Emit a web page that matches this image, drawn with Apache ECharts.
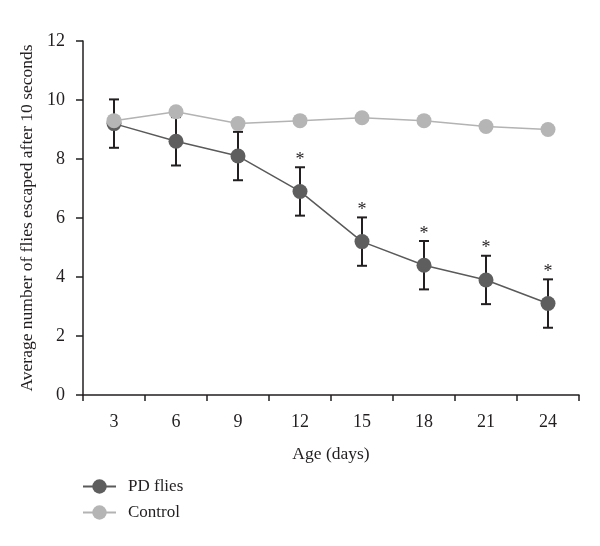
<!DOCTYPE html>
<html>
<head>
<meta charset="utf-8">
<script src="https://cdn.jsdelivr.net/npm/echarts@6/dist/echarts.min.js"></script>
<style>
html, body { margin: 0; padding: 0; background: #fff; }
#chart { width: 600px; height: 546px; }
</style>
</head>
<body>
<div id="chart"></div>
<script>
// data
var ages = ['3', '6', '9', '12', '15', '18', '21', '24'];
var pdFlies = [9.2, 8.6, 8.1, 6.9, 5.2, 4.4, 3.9, 3.1];
var pdErr = [0.82, 0.82, 0.82, 0.82, 0.82, 0.82, 0.82, 0.82];
var control = [9.3, 9.6, 9.2, 9.3, 9.4, 9.3, 9.1, 9.0];
var significant = [0, 0, 0, 1, 1, 1, 1, 1];
var yTicks = [0, 2, 4, 6, 8, 10, 12];

var ink = '#231f20';
var serif = 'Liberation Serif';

var errData = pdFlies.map(function (v, i) {
    return [i, v - pdErr[i], v + pdErr[i], significant[i]];
});

var chart = echarts.init(document.getElementById('chart'));
var option = {
    animation: false,
    textStyle: { fontFamily: serif, color: ink },
    grid: { left: 83, right: 21, top: 41, bottom: 151, containLabel: false },
    legend: {
        orient: 'vertical',
        left: 77,
        top: 473,
        itemWidth: 33,
        itemHeight: 18,
        itemGap: 9,
        data: ['PD flies', 'Control'],
        textStyle: { fontFamily: serif, fontSize: 17, color: ink, padding: [0, 0, 0, 7] }
    },
    xAxis: {
        type: 'category',
        data: ages,
        boundaryGap: true,
        name: 'Age (days)',
        nameLocation: 'middle',
        nameGap: 50,
        nameTextStyle: { fontFamily: serif, fontSize: 17.5, color: ink },
        axisLine: { lineStyle: { color: ink, width: 1.5 } },
        axisTick: { show: true, length: 6, alignWithLabel: false, lineStyle: { color: ink, width: 1.5 } },
        axisLabel: { fontFamily: serif, fontSize: 18, color: ink, margin: 18 },
        splitLine: { show: false }
    },
    yAxis: {
        type: 'value',
        min: yTicks[0],
        max: yTicks[yTicks.length - 1],
        interval: 2,
        name: 'Average number of flies escaped after 10 seconds',
        nameLocation: 'middle',
        nameGap: 42,
        nameTextStyle: { fontFamily: serif, fontSize: 17.5, color: ink },
        axisLine: { show: true, lineStyle: { color: ink, width: 1.5 } },
        axisTick: { show: true, length: 7, lineStyle: { color: ink, width: 1.5 } },
        axisLabel: { fontFamily: serif, fontSize: 18, color: ink, margin: 18 },
        splitLine: { show: false }
    },
    series: [
        {
            name: 'errors',
            type: 'custom',
            z: 1,
            data: errData,
            encode: { x: 0, y: [1, 2] },
            renderItem: function (params, api) {
                var lo = api.coord([api.value(0), api.value(1)]);
                var hi = api.coord([api.value(0), api.value(2)]);
                var cap = 5;
                var style = { stroke: ink, lineWidth: 2 };
                var kids = [
                    { type: 'line', shape: { x1: lo[0], y1: lo[1], x2: hi[0], y2: hi[1] }, style: style },
                    { type: 'line', shape: { x1: lo[0] - cap, y1: lo[1], x2: lo[0] + cap, y2: lo[1] }, style: style },
                    { type: 'line', shape: { x1: hi[0] - cap, y1: hi[1], x2: hi[0] + cap, y2: hi[1] }, style: style }
                ];
                if (api.value(3)) {
                    kids.push({
                        type: 'text',
                        style: {
                            text: '*', x: hi[0], y: hi[1] + 2,
                            align: 'center', verticalAlign: 'bottom',
                            font: '18px "Liberation Serif"', fill: ink
                        }
                    });
                }
                return { type: 'group', children: kids };
            }
        },
        {
            name: 'PD flies',
            type: 'line',
            z: 2,
            data: pdFlies,
            symbol: 'circle',
            symbolSize: 15,
            showAllSymbol: true,
            lineStyle: { color: '#5a5a5a', width: 1.5 },
            itemStyle: { color: '#5e5e5e' }
        },
        {
            name: 'Control',
            type: 'line',
            z: 3,
            data: control,
            symbol: 'circle',
            symbolSize: 15,
            showAllSymbol: true,
            lineStyle: { color: '#b3b3b3', width: 1.5 },
            itemStyle: { color: '#b5b5b5' }
        }
    ]
};
chart.setOption(option);
</script>
</body>
</html>
